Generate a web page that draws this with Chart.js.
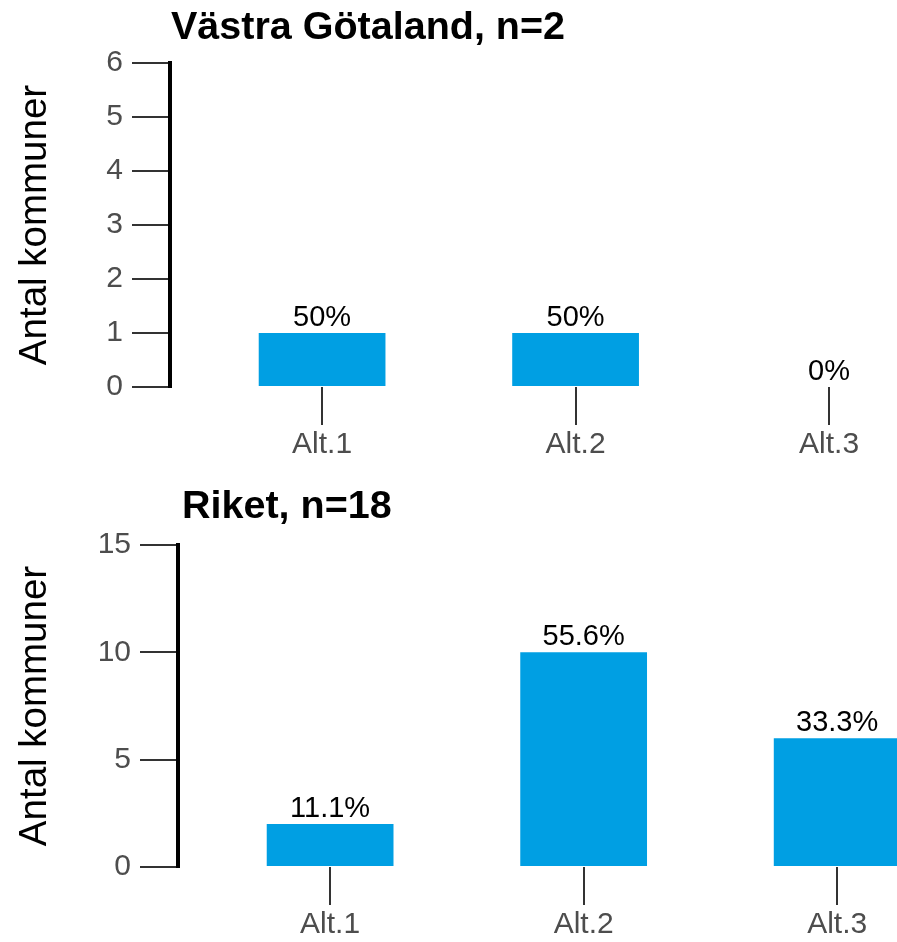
<!DOCTYPE html>
<html>
<head>
<meta charset="utf-8">
<script src="https://cdn.jsdelivr.net/npm/chart.js@4.4.0/dist/chart.umd.min.js"></script>
<style>
  body { margin: 0; background: #fff; overflow: hidden; }
  canvas { display: block; }
</style>
</head>
<body>
<canvas id="vg" width="897" height="470"></canvas>
<canvas id="riket" width="897" height="472"></canvas>
<script>
var categories = ['Alt.1', 'Alt.2', 'Alt.3'];
var vgName = 'Västra Götaland';
var vgValues = [1, 1, 0];
var vgTicks = [0, 1, 2, 3, 4, 5, 6];
var riketName = 'Riket';
var riketValues = [2, 10, 6];
var riketTicks = [0, 5, 10, 15];

var family = "'Liberation Sans', Arial, sans-serif";
Chart.defaults.font.family = family;

function pctLabel(v, n) {
    return (Math.round(v / n * 1000) / 10) + '%';
}

// bold title drawn flush with the plot's left edge
var heading = {
    id: 'heading',
    afterDraw: function (chart, args, opts) {
        var ctx = chart.ctx;
        ctx.save();
        ctx.font = 'bold 39.5px ' + family;
        ctx.fillStyle = '#000';
        ctx.textAlign = 'left';
        ctx.textBaseline = 'alphabetic';
        ctx.fillText(opts.text, chart.chartArea.left + opts.dx, chart.chartArea.top - opts.dy);
        ctx.restore();
    }
};

// percentage above each bar
var barLabels = {
    id: 'barLabels',
    afterDatasetsDraw: function (chart, args, opts) {
        var ctx = chart.ctx;
        var meta = chart.getDatasetMeta(0);
        ctx.save();
        ctx.font = '29px ' + family;
        ctx.fillStyle = '#000';
        ctx.textAlign = 'center';
        ctx.textBaseline = 'alphabetic';
        meta.data.forEach(function (bar, i) {
            ctx.fillText(opts.labels[i], bar.x, bar.y - 7);
        });
        ctx.restore();
    }
};

function makeChart(id, name, values, yTicks, xMax, axisWidth, topPad, xHeight, titleDx, titleDy) {
    var n = values.reduce(function (a, b) { return a + b; }, 0);
    var points = values.map(function (v, i) { return { x: i + 1, y: v }; });
    return new Chart(document.getElementById(id), {
        type: 'bar',
        data: {
            datasets: [{
                data: points,
                backgroundColor: '#009fe3',
                borderWidth: 0,
                barPercentage: 0.5,
                categoryPercentage: 1
            }]
        },
        options: {
            responsive: false,
            animation: false,
            devicePixelRatio: 1,
            layout: { padding: { top: topPad, left: 0, right: 0, bottom: 0 } },
            plugins: {
                legend: { display: false },
                tooltip: { enabled: false },
                heading: { text: name + ', n=' + n, dx: titleDx, dy: titleDy },
                barLabels: { labels: values.map(function (v) { return pctLabel(v, n); }) }
            },
            scales: {
                x: {
                    type: 'linear',
                    min: 0.4,
                    max: xMax,
                    offset: false,
                    grid: { offset: false, drawOnChartArea: false, drawTicks: true, tickLength: 38, color: '#333333', lineWidth: 2 },
                    border: { display: false },
                    ticks: {
                        font: { size: 30 },
                        color: '#4d4d4d',
                        padding: 2,
                        maxRotation: 0,
                        callback: function (value) { return categories[value - 1]; }
                    },
                    afterBuildTicks: function (scale) {
                        scale.ticks = categories.map(function (c, i) { return { value: i + 1 }; });
                    },
                    afterFit: function (scale) { scale.height = xHeight; }
                },
                y: {
                    min: yTicks[0],
                    max: yTicks[yTicks.length - 1],
                    grid: { drawOnChartArea: false, drawTicks: true, tickLength: 38, color: '#333333', lineWidth: 2 },
                    border: { display: true, color: '#000', width: 4 },
                    ticks: { font: { size: 30 }, color: '#4d4d4d', padding: 9 },
                    afterBuildTicks: function (scale) {
                        scale.ticks = yTicks.map(function (t) { return { value: t }; });
                    },
                    title: {
                        display: true,
                        text: 'Antal kommuner',
                        color: '#000',
                        font: { size: 38.5 },
                        padding: { top: 12, bottom: 0 }
                    },
                    afterFit: function (scale) { scale.width = axisWidth; }
                }
            }
        },
        plugins: [heading, barLabels]
    });
}

makeChart('vg', vgName, vgValues, vgTicks, 3.268, 170, 63, 83, 1, 24);
makeChart('riket', riketName, riketValues, riketTicks, 3.236, 178, 75, 75, 4, 27);
</script>
</body>
</html>
